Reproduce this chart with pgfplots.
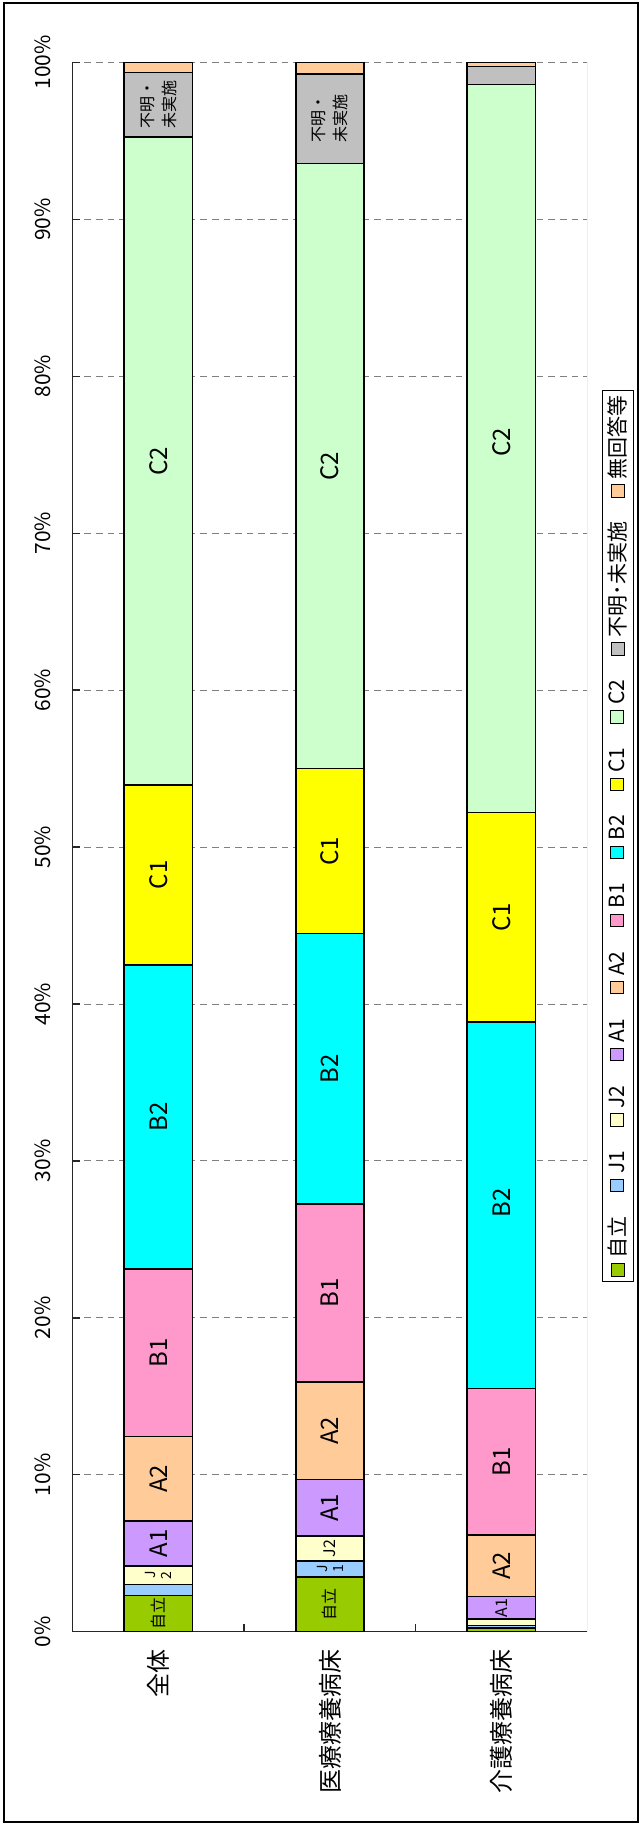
\documentclass[border=0pt]{standalone}
\usepackage{fontspec}
\setmainfont{Noto Sans CJK JP}
\usepackage{pgfplots}
\pgfplotsset{compat=1.18}
\definecolor{cJiritsu}{HTML}{99CC00}
\definecolor{cJone}{HTML}{99CCFF}
\definecolor{cJtwo}{HTML}{FFFFCC}
\definecolor{cAone}{HTML}{CC99FF}
\definecolor{cAtwo}{HTML}{FFCC99}
\definecolor{cBone}{HTML}{FF99CC}
\definecolor{cBtwo}{HTML}{00FFFF}
\definecolor{cCone}{HTML}{FFFF00}
\definecolor{cCtwo}{HTML}{CCFFCC}
\definecolor{cFumei}{HTML}{C0C0C0}
\definecolor{cMukaito}{HTML}{FFCC99}
\protected\def\labFumei{不明・\\未実施}
\protected\def\labJtwo{J\\2}
\protected\def\labJone{J\\1}
\newcommand\legsq[1]{{\setlength\fboxsep{0pt}\setlength\fboxrule{0.5pt}\raisebox{0.8pt}{\fcolorbox{black}{#1}{\rule{0pt}{5.8pt}\rule{5.8pt}{0pt}}}}\hspace{2.5pt}}
\begin{document}
\begin{tikzpicture}
\begin{axis}[
  scale only axis, width=257.2pt, height=784.6pt,
  ybar stacked, bar width=34.2pt,
  xmin=-0.5, xmax=2.5, ymin=0, ymax=100, enlargelimits=false,
  axis x line*=bottom, axis y line*=left,
  axis line style={black!85, line width=0.7pt},
  xtick={0.5,1.5}, xticklabels={},
  extra x ticks={0,1,2},
  extra x tick labels={全体,医療療養病床,介護療養病床},
  extra x tick style={major tick length=0pt},
  xticklabel style={rotate=90, anchor=east, font=\fontsize{12}{12}\selectfont},
  xticklabel shift=5.5pt,
  ytick={0,10,20,30,40,50,60,70,80,90,100},
  yticklabels={0\%,10\%,20\%,30\%,40\%,50\%,60\%,70\%,80\%,90\%,100\%},
  yticklabel style={rotate=90, anchor=south, font=\fontsize{10.5}{12}\selectfont},
  yticklabel shift=7.5pt,
  tick align=inside, major tick length=3.8pt,
  tick style={black!85, line width=0.7pt},
  ymajorgrids,
  grid style={gray, line width=0.5pt, dash pattern=on 3.3pt off 2.5pt},
  legend columns=1, reverse legend,
  legend cell align=center,
  legend image code/.code={},
  legend style={at={(axis description cs:1.029,0.507)}, anchor=west,
    draw=black, line width=0.5pt, font=\fontsize{10.5}{12.6}\selectfont, inner sep=1.5pt,
    row sep=10pt,
    nodes={rotate=90, anchor=center, inner sep=1pt}},
]
\addplot[fill=cJiritsu, draw=black, line width=0.8pt] coordinates {(0,2.3) (1,3.5) (2,0.25)};
\addlegendentry{\legsq{cJiritsu}自立}
\addplot[fill=cJone, draw=black, line width=0.8pt] coordinates {(0,0.7) (1,1.0) (2,0.15)};
\addlegendentry{\legsq{cJone}J1}
\addplot[fill=cJtwo, draw=black, line width=0.8pt] coordinates {(0,1.2) (1,1.6) (2,0.4)};
\addlegendentry{\legsq{cJtwo}J2}
\addplot[fill=cAone, draw=black, line width=0.8pt] coordinates {(0,2.85) (1,3.6) (2,1.45)};
\addlegendentry{\legsq{cAone}A1}
\addplot[fill=cAtwo, draw=black, line width=0.8pt] coordinates {(0,5.4) (1,6.2) (2,3.9)};
\addlegendentry{\legsq{cAtwo}A2}
\addplot[fill=cBone, draw=black, line width=0.8pt] coordinates {(0,10.65) (1,11.35) (2,9.35)};
\addlegendentry{\legsq{cBone}B1}
\addplot[fill=cBtwo, draw=black, line width=0.8pt] coordinates {(0,19.4) (1,17.25) (2,23.35)};
\addlegendentry{\legsq{cBtwo}B2}
\addplot[fill=cCone, draw=black, line width=0.8pt] coordinates {(0,11.45) (1,10.5) (2,13.35)};
\addlegendentry{\legsq{cCone}C1}
\addplot[fill=cCtwo, draw=black, line width=0.8pt] coordinates {(0,41.3) (1,38.55) (2,46.4)};
\addlegendentry{\legsq{cCtwo}C2}
\addplot[fill=cFumei, draw=black, line width=0.8pt] coordinates {(0,4.1) (1,5.7) (2,1.15)};
\addlegendentry{\legsq{cFumei}不明･未実施}
\addplot[fill=cMukaito, draw=black, line width=0.8pt] coordinates {(0,0.65) (1,0.75) (2,0.25)};
\addlegendentry{\legsq{cMukaito}無回答等}
\draw[gray, line width=0.6pt] (rel axis cs:1,0) -- (rel axis cs:1,1);
\end{axis}
\begin{axis}[
  scale only axis, width=257.2pt, height=784.6pt,
  xmin=-0.5, xmax=2.5, ymin=0, ymax=100, hide axis, clip=false,
  nodes near coords, point meta=explicit symbolic,
]
\addplot[draw=none, mark=none, every node near coord/.append style={rotate=90, anchor=center, font=\fontsize{12}{12}\selectfont}] coordinates {
 (0,5.625) [A1] (0,9.75) [A2] (0,17.775) [B1] (0,32.8) [B2] (0,48.225) [C1] (0,74.6) [C2]
 (1,7.9) [A1] (1,12.8) [A2] (1,21.575) [B1] (1,35.875) [B2] (1,49.75) [C1] (1,74.275) [C2]
 (2,4.2) [A2] (2,10.825) [B1] (2,27.34) [B2] (2,45.525) [C1] (2,75.8) [C2]
};
\addplot[draw=none, mark=none, every node near coord/.append style={rotate=90, anchor=center, font=\fontsize{8}{8}\selectfont}] coordinates {
 (0,1.15) [自立] (1,1.75) [自立] (1,5.3) [J2] (2,1.525) [A1]
};
\addplot[draw=none, mark=none, every node near coord/.append style={rotate=90, anchor=center, align=center, font=\fontsize{8}{11}\selectfont}] coordinates {
 (0,97.3) [\labFumei] (1,96.4) [\labFumei]
};
\addplot[draw=none, mark=none, every node near coord/.append style={rotate=90, anchor=center, align=center, inner sep=0pt, font=\fontsize{7}{8}\selectfont}] coordinates {
 (0,3.6) [\labJtwo] (1,4.0) [\labJone]
};
\end{axis}
\pgfresetboundingbox
\path[use as bounding box] (-36.35pt,-96.65pt) rectangle (283.15pt,815.85pt);
\draw[black, line width=0.8pt] (-34.35pt,-95.15pt) rectangle (282.65pt,814.35pt);
\end{tikzpicture}
\end{document}
